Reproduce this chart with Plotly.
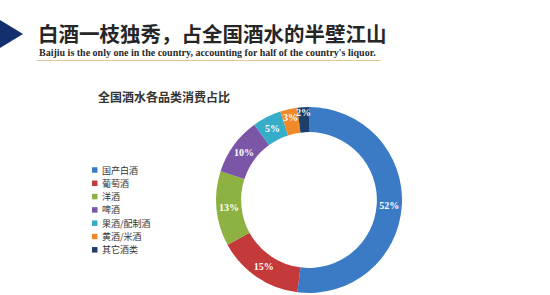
import plotly.graph_objects as go

categories = ["国产白酒", "葡萄酒", "洋酒", "啤酒", "果酒/配制酒", "黄酒/米酒", "其它酒类"]
shares = [52, 15, 13, 10, 5, 3, 2]
colors = ["#3B7BC6", "#C4393A", "#8DB241", "#7B55A6", "#36ADC9", "#F0892A", "#1E3F6B"]

title_cn = "白酒一枝独秀，占全国酒水的半壁江山"
title_en = "Baijiu is the only one in the country, accounting for half of the country's liquor."
chart_title = "全国酒水各品类消费占比"

W, H = 550, 295
cx, cy, r = 309, 200, 93

fig = go.Figure(go.Pie(
    labels=categories,
    values=shares,
    marker=dict(colors=colors, line=dict(color="white", width=0)),
    hole=0.73,
    sort=False,
    direction="clockwise",
    rotation=0,
    texttemplate="%{value}%",
    textposition="inside",
    insidetextorientation="horizontal",
    textfont=dict(family="Liberation Serif, DejaVu Serif, serif", size=10, color="white", weight="bold"),
    domain=dict(x=[(cx - r) / W, (cx + r) / W], y=[1 - (cy + r) / H, 1 - (cy - r) / H]),
    hoverinfo="label+percent",
    showlegend=False,
))

# legend drawn from the category/colour lists
lx, ly0, dy = 92, 170, 13.3
shapes = [
    dict(type="path", xref="paper", yref="paper",
         path=f"M 0 {1-20/H} L {23/W} {1-34/H} L 0 {1-48/H} Z",
         fillcolor="#132F6E", line=dict(width=0)),
    dict(type="line", xref="paper", yref="paper",
         x0=37 / W, x1=381 / W, y0=1 - 60.5 / H, y1=1 - 60.5 / H,
         line=dict(color="#E6C79B", width=1)),
]
annotations = [
    dict(text=title_cn, x=36 / W, y=1 - 32.5 / H, xref="paper", yref="paper",
         xanchor="left", yanchor="middle", showarrow=False,
         font=dict(size=20.5, color="#262626", family="Noto Sans CJK SC, sans-serif", weight="bold")),
    dict(text=title_en, x=37 / W, y=1 - 52 / H, xref="paper", yref="paper",
         xanchor="left", yanchor="middle", showarrow=False,
         font=dict(size=10, color="#2a2a2a", family="Liberation Serif, DejaVu Serif, serif", weight="bold")),
    dict(text=chart_title, x=96 / W, y=1 - 97 / H, xref="paper", yref="paper",
         xanchor="left", yanchor="middle", showarrow=False,
         font=dict(size=12, color="#333333", family="Noto Sans CJK SC, sans-serif", weight="bold")),
]
for i, (cat, col) in enumerate(zip(categories, colors)):
    yc = ly0 + dy * i
    shapes.append(dict(type="rect", xref="paper", yref="paper",
                       x0=lx / W, x1=(lx + 5.5) / W, y0=1 - (yc + 2.75) / H, y1=1 - (yc - 2.75) / H,
                       fillcolor=col, line=dict(width=0)))
    annotations.append(dict(text=cat, x=(lx + 8) / W, y=1 - yc / H, xref="paper", yref="paper",
                            xanchor="left", yanchor="middle", showarrow=False,
                            font=dict(size=9, color="#333333", family="Noto Sans CJK SC, sans-serif")))

fig.update_layout(
    width=W, height=H,
    margin=dict(l=0, r=0, t=0, b=0),
    paper_bgcolor="white",
    plot_bgcolor="white",
    font=dict(family="Noto Sans CJK SC, sans-serif"),
    showlegend=False,
    uniformtext=dict(minsize=10, mode="show"),
    shapes=shapes,
    annotations=annotations,
)

fig.write_html("out.html")
